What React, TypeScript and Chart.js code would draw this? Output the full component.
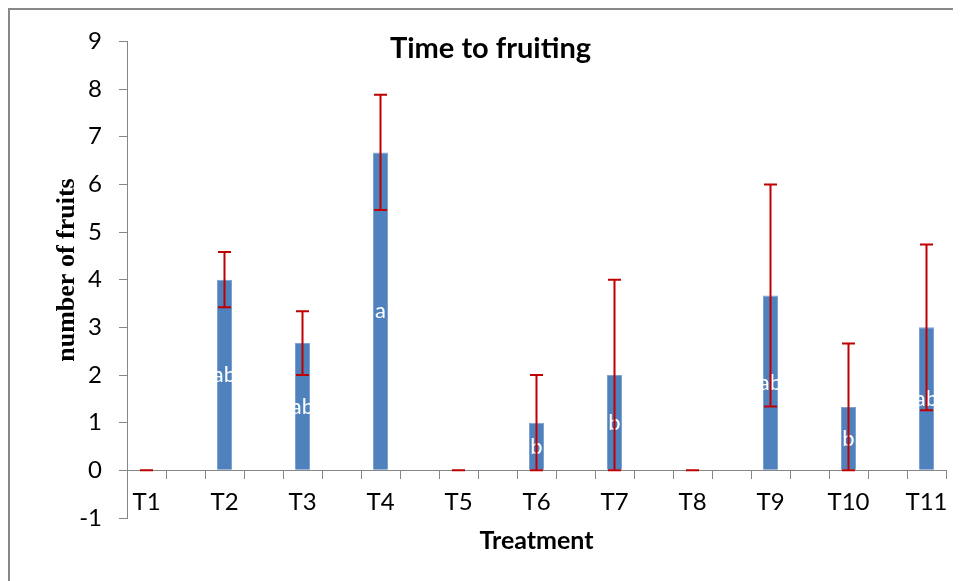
import React, { useEffect, useRef } from 'react';
import { Chart, registerables } from 'chart.js';

Chart.register(...registerables);

const treatments = ['T1', 'T2', 'T3', 'T4', 'T5', 'T6', 'T7', 'T8', 'T9', 'T10', 'T11'];
const meanFruits = [0, 4, 2.67, 6.67, 0, 1, 2, 0, 3.67, 1.33, 3];
const errFruits = [0, 0.58, 0.67, 1.21, 0, 1, 2, 0, 2.33, 1.33, 1.74];
const letters = ['', 'ab', 'ab', 'a', '', 'b', 'b', '', 'ab', 'b', 'ab'];
const yMin = -1;
const yMax = 9;

const chartTitle = 'Time to fruiting';
const xTitle = 'Treatment';
const yTitle = 'number of fruits';

// Excel-like layout: each treatment followed by an empty spacer category
const categoryLabels: string[] = [];
const categoryValues: (number | null)[] = [];
treatments.forEach((t, i) => {
  categoryLabels.push(t);
  categoryValues.push(meanFruits[i]);
  if (i < treatments.length - 1) {
    categoryLabels.push('');
    categoryValues.push(null);
  }
});

const AXIS_COLOR = '#868686';
const SANS = 'Lato, "Open Sans", sans-serif';
const SERIF = '"Liberation Serif", "Times New Roman", serif';

const overlayPlugin = {
  id: 'overlay',
  afterDatasetsDraw(chart: any) {
    const { ctx, scales } = chart;
    const x = scales.x;
    const y = scales.y;
    ctx.save();
    // significance letters in the middle of each bar
    ctx.font = '22px ' + SANS;
    ctx.fillStyle = '#ffffff';
    ctx.textAlign = 'center';
    ctx.textBaseline = 'middle';
    treatments.forEach((_, i) => {
      if (!letters[i]) return;
      const px = x.getPixelForValue(2 * i);
      const py = y.getPixelForValue(meanFruits[i] / 2);
      ctx.fillText(letters[i], px, py);
    });
    // error bars
    ctx.strokeStyle = '#C00000';
    ctx.lineWidth = 2;
    const cap = 6.5;
    treatments.forEach((_, i) => {
      const px = x.getPixelForValue(2 * i);
      const top = y.getPixelForValue(meanFruits[i] + errFruits[i]);
      const bot = y.getPixelForValue(Math.max(0, meanFruits[i] - errFruits[i]));
      ctx.beginPath();
      ctx.moveTo(px, top);
      ctx.lineTo(px, bot);
      ctx.moveTo(px - cap, top);
      ctx.lineTo(px + cap, top);
      ctx.moveTo(px - cap, bot);
      ctx.lineTo(px + cap, bot);
      ctx.stroke();
    });
    ctx.restore();
  },
  afterDraw(chart: any) {
    const { ctx } = chart;
    ctx.save();
    ctx.fillStyle = '#000000';
    ctx.textAlign = 'center';
    ctx.textBaseline = 'alphabetic';
    ctx.font = 'bold 29px ' + SANS;
    ctx.fillText(chartTitle, 480.5, 47.5);
    // y-axis title
    ctx.translate(57.5, 260);
    ctx.rotate(-Math.PI / 2);
    ctx.textBaseline = 'middle';
    ctx.font = 'bold 26px ' + SERIF;
    ctx.fillText(yTitle, 0, 0);
    ctx.restore();
  },
};

export default function App() {
  const canvasRef = useRef<HTMLCanvasElement | null>(null);

  useEffect(() => {
    const canvas = canvasRef.current;
    if (!canvas) return;
    const chart = new Chart(canvas, {
      type: 'bar',
      data: {
        labels: categoryLabels,
        datasets: [
          {
            data: categoryValues,
            backgroundColor: '#4F81BD',
            borderColor: '#7EA2D2',
            borderWidth: 1,
            barPercentage: 0.385,
            categoryPercentage: 1,
          },
        ],
      },
      options: {
        responsive: false,
        animation: false,
        layout: { padding: { top: 28, right: 15, bottom: 63, left: 0 } },
        plugins: {
          legend: { display: false },
          tooltip: { enabled: false },
          title: { display: false },
        },
        scales: {
          x: {
            position: { y: 0 } as any,
            offset: true,
            grid: {
              offset: true,
              drawOnChartArea: false,
              drawTicks: true,
              tickLength: 8,
              color: AXIS_COLOR,
              lineWidth: 1,
            },
            border: { display: true, color: AXIS_COLOR, width: 1 },
            ticks: {
              autoSkip: false,
              maxRotation: 0,
              minRotation: 0,
              color: '#000000',
              padding: 10,
              font: { family: SANS, size: 24 },
            },
            title: {
              display: true,
              text: xTitle,
              color: '#000000',
              padding: 0,
              font: { family: SANS, size: 25, weight: 'bold' },
            },
            afterFit: (scale: any) => {
              scale.height = 86;
            },
          },
          y: {
            min: yMin,
            max: yMax,
            grid: {
              drawOnChartArea: false,
              drawTicks: true,
              tickLength: 8,
              color: AXIS_COLOR,
              lineWidth: 1,
            },
            border: { display: true, color: AXIS_COLOR, width: 1 },
            ticks: {
              stepSize: 1,
              color: '#000000',
              padding: 17,
              font: { family: SANS, size: 24 },
            },
            title: { display: false },
            afterFit: (scale: any) => {
              scale.width = 117;
            },
          },
        },
      },
      plugins: [overlayPlugin],
    });
    return () => chart.destroy();
  }, []);

  return (
    <div
      style={{
        width: 951,
        height: 571,
        borderTop: '2px solid #888888',
        borderLeft: '2px solid #888888',
        background: '#ffffff',
      }}
    >
      <canvas ref={canvasRef} width={951} height={571} style={{ display: 'block' }} />
    </div>
  );
}
